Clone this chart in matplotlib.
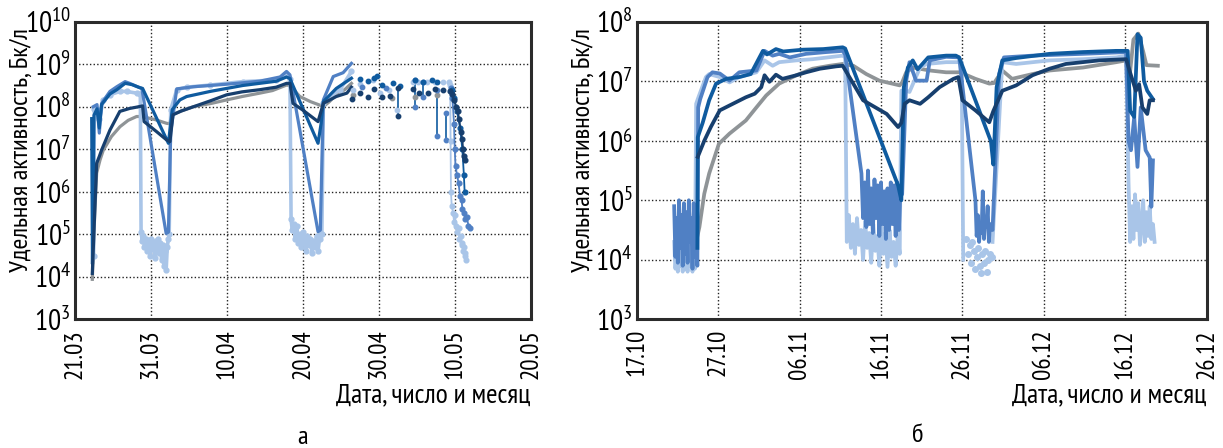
import numpy as np
import matplotlib
matplotlib.use("Agg")
import matplotlib.pyplot as plt
from matplotlib import font_manager as fm

installed = {f.name for f in fm.fontManager.ttflist}
wish = ["PT Sans Narrow", "Fira Sans Condensed", "Roboto Condensed", "Open Sans Condensed",
        "IBM Plex Sans Condensed", "Liberation Sans Narrow", "Liberation Sans"]
narrow = [n for n in wish if n in installed][:1]
plt.rcParams["font.family"] = narrow + ["DejaVu Sans"]

# colours of the five series
c_gray = "#8f9497"
c_navy = "#173f6e"
c_dblue = "#0f5b9f"
c_mblue = "#5080c4"
c_light = "#a9c5e8"

# ---------------- panel a: days since 21.03, values as log10(Bq/l)
a_ticks = [0, 10, 20, 30, 40, 50, 60]
a_labels = ["21.03", "31.03", "10.04", "20.04", "30.04", "10.05", "20.05"]

a_gray_day = [2.28, 2.6, 2.85, 3.3, 3.73, 4.8, 5.92, 7.0, 8.11, 8.77, 10.5, 12.06, 12.5, 12.7, 14.0, 15.57,
              18.0, 19.96, 22.0, 24.34, 26.0, 27.85, 28.3, 29.6, 31.0, 32.2, 32.7, 33.5, 34.4, 35.5, 36.4]
a_gray_lg = [3.94, 5.5, 6.44, 6.75, 6.98, 7.3, 7.53, 7.68, 7.77, 7.77, 7.7, 7.61, 7.6, 7.81, 7.9, 8.0,
             8.08, 8.16, 8.24, 8.32, 8.38, 8.51, 8.5, 8.24, 8.12, 8.04, 8.0, 8.12, 8.28, 8.4, 8.55]

a_navy_day = [2.28, 2.85, 3.2, 3.5, 4.6, 5.9, 7.2, 8.1, 8.9, 9.1, 10.7, 12.06, 12.5, 12.9, 14.0, 15.6, 18.0,
              19.96, 22.0, 24.3, 26.5, 27.85, 28.3, 28.7, 30.0, 32.0, 32.7, 34.4, 35.8, 36.4]
a_navy_lg = [4.08, 6.67, 6.83, 6.98, 7.45, 7.89, 7.96, 7.99, 8.02, 7.65, 7.42, 7.22, 7.18, 7.81, 7.9, 8.0, 8.15,
             8.28, 8.35, 8.4, 8.46, 8.55, 8.55, 8.08, 7.92, 7.65, 8.08, 8.24, 8.32, 8.46]

a_dblue_day = [2.2, 2.3, 2.5, 2.9, 3.2, 3.5, 4.6, 5.5, 6.6, 7.5, 8.5, 8.9, 12.3, 12.8, 13.8, 14.7, 17.8,
               22.1, 26.5, 27.85, 28.3, 32.0, 32.4, 32.7, 34.4, 36.4]
a_dblue_lg = [7.72, 4.3, 7.8, 7.95, 7.5, 8.05, 8.3, 8.4, 8.55, 8.52, 8.45, 8.43, 7.14, 7.93, 8.16, 8.24, 8.36,
              8.5, 8.6, 8.7, 8.66, 7.14, 7.6, 8.12, 8.43, 8.67]

a_mblue_day = [2.4, 2.9, 3.2, 3.5, 4.6, 5.5, 6.6, 7.2, 8.1, 8.8, 12.0, 12.3, 12.6, 13.4, 15.6, 20.0, 24.3,
               27.0, 27.85, 28.3, 32.0, 32.3, 32.7, 34.0, 35.3, 36.4]
a_mblue_lg = [8.0, 8.05, 7.38, 8.08, 8.36, 8.47, 8.59, 8.55, 8.48, 8.43, 5.02, 5.05, 7.4, 8.42, 8.47, 8.53, 8.6,
              8.7, 8.83, 8.75, 5.06, 5.1, 8.16, 8.71, 8.8, 9.02]

a_light_day = [2.45, 2.55, 3.0, 3.2, 3.73, 4.6, 5.9, 6.8, 8.1, 8.6, 8.7,
               8.85, 9.0, 9.15, 9.3, 9.45, 9.6, 9.75, 9.9, 10.05, 10.2, 10.35, 10.5, 10.65, 10.8, 10.95,
               11.1, 11.25, 11.4, 11.55, 11.7, 11.85, 12.0, 12.15, 12.3,
               12.4, 12.6, 13.4, 14.7, 17.8, 22.1, 26.5, 27.9, 28.3, 28.45,
               28.6, 28.8, 29.0, 29.2, 29.4, 29.6, 29.8, 30.0, 30.2, 30.4, 30.6, 30.8, 31.0, 31.2, 31.4,
               31.6, 31.8, 32.0, 32.2, 32.4,
               32.5, 32.7, 33.6, 34.9, 36.4]
a_light_lg = [4.5, 7.95, 7.92, 7.7, 8.16, 8.28, 8.36, 8.36, 8.32, 8.3, 5.05,
              4.85, 4.95, 4.7, 4.9, 4.6, 4.85, 4.75, 4.5, 4.9, 4.65, 4.8, 4.45, 4.85, 4.6, 4.9,
              4.55, 4.8, 4.4, 4.75, 4.25, 4.6, 4.15, 4.7, 4.9,
              5.0, 7.93, 8.4, 8.46, 8.51, 8.59, 8.63, 8.75, 8.65, 5.35,
              5.1, 5.25, 4.9, 5.2, 4.8, 5.0, 4.7, 5.05, 4.85, 4.6, 4.95, 4.75, 4.9, 4.55, 4.85,
              4.7, 4.95, 4.6, 4.9, 5.0,
              5.0, 8.08, 8.24, 8.4, 8.83]

# sparse measurements 30.04 - 10.05 (dots) and vertical drops
a_dot_gray_day = [36.64, 41.69, 44.76, 47.6]
a_dot_gray_lg = [8.28, 8.2, 8.22, 8.28]
a_dot_navy_day = [36.42, 37.52, 38.62, 39.36, 40.37, 41.47, 42.57, 42.57, 44.54, 45.33, 46.52, 47.4, 48.4]
a_dot_navy_lg = [8.18, 8.32, 8.24, 8.41, 8.22, 8.26, 8.44, 7.79, 8.41, 8.32, 8.33, 8.41, 8.4]
a_dot_dblue_day = [37.52, 38.62, 39.36, 39.8, 40.37, 41.82, 42.79, 44.76, 45.86, 46.96, 47.6]
a_dot_dblue_lg = [8.65, 8.61, 8.67, 8.73, 8.51, 8.55, 8.49, 8.63, 8.59, 8.63, 8.59]
a_dot_light_day = [36.64, 37.52, 39.27, 40.15, 41.38, 42.44, 44.54, 45.2, 46.39, 47.4, 48.49]
a_dot_light_lg = [8.4, 8.54, 8.62, 8.32, 8.4, 7.93, 8.57, 8.59, 8.57, 8.57, 8.59]
a_dot_mblue_day = [37.74, 40.94, 44.76, 44.76, 45.86, 45.86, 47.7, 47.7, 48.8, 48.8]
a_dot_mblue_lg = [8.46, 8.44, 8.63, 7.99, 8.59, 8.24, 8.4, 7.3, 7.85, 7.22]
a_drop_day = [42.57, 44.76, 45.86, 47.7, 48.8]
a_drop_top = [8.44, 8.63, 8.59, 8.4, 7.85]
a_drop_bot = [7.79, 7.99, 8.24, 7.3, 7.22]
a_drop_col = [c_dblue, c_dblue, c_dblue, c_dblue, c_dblue]

# final decline around 10.05
a_tail_light_day = [49.2, 49.4, 49.45, 49.5, 49.6, 49.8, 49.9, 50.0, 50.2, 50.3, 50.5, 50.6, 50.8, 50.9, 51.0,
                    51.1, 51.2, 51.3, 51.4, 51.5]
a_tail_light_lg = [8.59, 8.5, 7.2, 6.0, 5.66, 5.5, 5.3, 5.45, 5.2, 5.05, 5.15, 4.9, 4.95, 4.75, 4.8, 4.6,
                   4.7, 4.5, 4.55, 4.4]
a_tail_mblue_day = [49.5, 49.7, 49.9, 50.0, 50.1, 50.3, 50.5, 50.7, 50.9, 51.0, 51.2, 51.4, 51.6, 51.8, 52.0]
a_tail_mblue_lg = [8.45, 8.2, 7.6, 7.0, 6.6, 6.4, 6.2, 5.9, 5.8, 5.6, 5.5, 5.35, 5.4, 5.2, 5.15]
a_tail_navy_day = [49.4, 49.6, 49.9, 50.2, 50.4, 50.6, 50.8, 51.0, 51.1, 51.2, 51.3]
a_tail_navy_lg = [8.36, 8.3, 8.15, 8.0, 7.9, 7.7, 7.4, 7.25, 7.0, 6.85, 6.75]
a_tail_dblue_day = [49.6, 49.9, 50.3, 50.7, 51.0, 51.2, 51.3]
a_tail_dblue_lg = [8.4, 8.2, 7.9, 7.5, 7.0, 6.4, 6.0]

# ---------------- panel b: days since 17.10
b_ticks = [0, 10, 20, 30, 40, 50, 60, 70]
b_labels = ["17.10", "27.10", "06.11", "16.11", "26.11", "06.12", "16.12", "26.12"]

b_gray_day = [7.3, 7.7, 8.3, 8.9, 10.1, 11.4, 13.4, 14.7, 15.9, 17.5, 19.6, 21.6, 23.7, 25.3, 26.6, 28.2,
              29.8, 32.3, 32.6, 33.1, 33.9, 36.0, 38.0, 39.7, 41.6, 43.3, 43.9, 44.9, 46.1, 48.6, 50.7,
              54.8, 58.9, 60.1, 60.4, 61.0, 61.6, 62.2, 62.6, 64.0]
b_gray_lg = [4.3, 4.55, 5.11, 5.45, 5.95, 6.12, 6.34, 6.56, 6.76, 6.96, 7.1, 7.21, 7.26, 7.29, 7.26, 7.12,
             7.01, 6.93, 6.98, 7.15, 7.23, 7.18, 7.15, 7.15, 7.04, 6.96, 6.97, 7.18, 7.04, 7.12, 7.18,
             7.23, 7.32, 7.35, 6.9, 7.7, 7.8, 7.5, 7.27, 7.26]

b_navy_day = [7.5, 8.3, 9.1, 10.2, 11.8, 13.4, 14.5, 15.3, 15.7, 16.3, 17.1, 17.9, 19.6, 20.8, 22.5, 24.5,
              25.3, 27.8, 30.7, 32.1, 32.5, 32.9, 33.5, 34.8, 35.8, 37.2, 38.9, 39.5, 40.0, 41.6, 43.3,
              43.8, 44.9, 46.6, 48.6, 50.7, 52.7, 56.8, 60.1, 60.7, 61.3, 61.7, 62.1, 62.7, 63.0, 63.4]
b_navy_lg = [5.73, 6.0, 6.23, 6.51, 6.62, 6.73, 6.79, 6.9, 7.1, 6.99, 7.11, 7.04, 7.1, 7.15, 7.21, 7.25,
             7.26, 6.68, 6.45, 6.23, 6.3, 6.62, 6.68, 6.62, 6.73, 6.9, 7.04, 7.07, 6.68, 6.51, 6.31,
             6.5, 6.84, 6.93, 7.1, 7.21, 7.29, 7.35, 7.37, 7.1, 6.84, 6.95, 6.56, 6.45, 6.68, 6.68]

b_dblue_day = [7.45, 7.5, 8.1, 8.9, 9.75, 11.0, 12.6, 14.0, 15.5, 16.0, 17.1, 18.0, 20.4, 22.9, 25.3, 25.6,
               32.1, 32.5, 32.8, 33.3, 33.9, 34.5, 35.8, 38.0, 39.2, 39.6, 43.5, 43.8, 44.2, 44.9, 46.6,
               50.7, 54.8, 58.9, 60.3, 60.6, 61.1, 61.5, 61.9, 62.3, 62.7, 63.4]
b_dblue_lg = [4.2, 6.06, 6.3, 6.68, 6.96, 7.04, 7.07, 7.12, 7.51, 7.45, 7.54, 7.5, 7.53, 7.54, 7.57, 7.55,
              5.25, 5.0, 6.9, 7.23, 7.35, 7.2, 7.4, 7.43, 7.43, 7.4, 5.99, 5.6, 6.9, 7.35, 7.39,
              7.46, 7.49, 7.51, 7.51, 6.5, 6.4, 7.79, 7.73, 7.0, 6.84, 6.7]

b_mblue_day = [4.6, 4.75, 4.9, 5.05, 5.2, 5.35, 5.5, 5.65, 5.8, 5.95, 6.1, 6.25, 6.4, 6.55, 6.7, 6.85,
               7.0, 7.15, 7.3, 7.45,
               7.55, 7.8, 8.7, 9.3, 10.2, 11.4, 12.6, 14.7, 15.7, 16.7, 17.5, 18.8, 20.8, 23.3, 25.3, 25.6,
               27.6, 27.8, 28.0, 28.2, 28.4, 28.6, 28.8, 29.0, 29.2, 29.4, 29.6, 29.8, 30.0, 30.2, 30.4,
               30.6, 30.8, 31.0, 31.2, 31.4, 31.6, 31.8, 32.0, 32.2, 32.4,
               32.6, 33.1, 33.5, 34.3, 35.6, 36.0, 38.0, 39.6,
               41.6, 41.75, 41.9, 42.05, 42.2, 42.35, 42.5, 42.65, 42.8, 42.95, 43.1, 43.25, 43.4,
               43.7, 44.5, 45.1, 48.6, 54.8, 60.1,
               60.4, 60.7, 61.1, 61.5, 61.9, 62.5, 63.0, 63.2, 63.4]
b_mblue_lg = [4.9, 4.05, 4.7, 3.95, 5.0, 4.2, 4.75, 3.9, 4.95, 4.1, 4.8, 3.95, 5.0, 4.3, 4.7, 3.85,
              4.95, 4.05, 4.25, 3.9,
              6.56, 6.7, 7.07, 7.15, 7.13, 7.01, 7.15, 7.18, 7.51, 7.43, 7.46, 7.4, 7.46, 7.49, 7.51, 7.45,
              5.45, 4.7, 5.3, 4.55, 5.5, 4.6, 5.2, 4.45, 5.35, 4.7, 5.25, 4.4, 5.3, 4.6, 5.15,
              4.35, 5.2, 4.5, 5.3, 4.6, 5.25, 4.4, 5.3, 4.5, 5.2,
              5.1, 7.01, 7.32, 7.01, 7.01, 7.35, 7.41, 7.4,
              5.0, 4.4, 4.75, 4.3, 4.6, 4.45, 5.15, 4.35, 4.7, 4.55, 4.9, 4.3, 4.6,
              4.5, 7.12, 7.4, 7.43, 7.46, 7.49,
              6.0, 5.84, 6.4, 5.56, 6.56, 5.84, 5.72, 4.89, 5.67]

b_light_day = [4.6, 4.75, 4.9, 5.05, 5.2, 5.35, 5.5, 5.65, 5.8, 5.95, 6.1, 6.25, 6.4, 6.55, 6.7, 6.85,
               7.0, 7.15,
               7.3, 7.5, 8.5, 8.9, 10.2, 11.4, 12.6, 14.7, 15.7, 16.7, 17.5, 19.6, 21.6, 25.3, 25.6,
               25.8, 26.05, 26.3, 26.55, 26.8, 27.05, 27.3, 27.55, 27.8, 28.05, 28.3, 28.55, 28.8, 29.05,
               29.3, 29.55, 29.8, 30.05, 30.3, 30.55, 30.8, 31.05, 31.3, 31.55, 31.8, 32.05, 32.3,
               32.5, 33.1, 33.5, 34.8, 35.6, 38.0, 39.9, 40.1]
b_light_lg = [4.3, 3.85, 4.1, 3.8, 4.25, 3.9, 4.0, 3.8, 4.2, 3.85, 4.05, 3.8, 4.3, 3.9, 4.1, 3.8,
              4.2, 3.85,
              6.62, 6.7, 7.07, 7.12, 7.07, 6.98, 7.07, 7.15, 7.35, 7.26, 7.32, 7.35, 7.37, 7.43, 7.4,
              4.3, 4.75, 4.2, 4.6, 4.1, 4.7, 4.25, 4.5, 4.0, 4.65, 4.2, 4.45, 3.95, 4.6,
              4.15, 4.4, 3.9, 4.55, 4.1, 4.45, 3.88, 4.5, 4.05, 4.3, 3.9, 4.4, 4.1,
              6.84, 6.84, 6.82, 7.23, 7.29, 7.32, 7.32, 4.0]
b_light2_day = [43.7, 44.9, 46.6, 50.7, 54.8, 58.9, 60.1,
                60.4, 60.6, 60.8, 61.0, 61.2, 61.4, 61.6, 61.8, 62.0, 62.2, 62.4, 62.6, 62.8, 63.0, 63.2,
                63.4, 63.6]
b_light2_lg = [4.3, 7.32, 7.29, 7.35, 7.37, 7.4, 7.43,
               5.3, 4.3, 4.9, 4.35, 5.1, 4.5, 4.95, 4.25, 4.6, 5.0, 4.3, 4.8, 4.4, 4.9, 4.35,
               4.6, 4.3]
# separate light-blue points after 26.11
b_dot_light_day = [40.5, 40.7, 40.9, 41.1, 41.2, 41.4, 41.6, 41.8, 41.9, 42.1, 42.3, 42.4, 42.6, 42.8,
                   43.0, 43.2, 43.4, 43.6]
b_dot_light_lg = [4.35, 4.1, 4.25, 3.95, 4.3, 4.15, 3.85, 4.05, 4.2, 3.9, 3.78, 4.1, 3.95, 4.15,
                  3.8, 4.0, 4.1, 4.05]


def p(v):
    return 10.0 ** np.asarray(v, dtype=float)


def style_axes(ax, ticks, labels, lo, hi):
    ax.set_yscale("log")
    ax.set_xlim(ticks[0], ticks[-1])
    ax.set_ylim(10.0 ** lo, 10.0 ** hi)
    ax.set_xticks(ticks)
    ax.set_xticklabels(labels, rotation=90, fontsize=18)
    exps = list(range(lo, hi + 1))
    ax.set_yticks([10.0 ** e for e in exps])
    ax.set_yticklabels([r"$\mathdefault{10^{%d}}$" % e for e in exps], fontsize=21)
    ax.yaxis.set_minor_locator(plt.NullLocator())
    ax.tick_params(length=0, pad=3)
    ax.tick_params(axis="x", pad=7)
    ax.grid(True, color="#222222", linestyle=(0, (1, 1.6)), linewidth=1.0)
    for s in ax.spines.values():
        s.set_linewidth(2.2)
        s.set_color("#2b2b2b")
    ax.set_ylabel("Удельная активность, Бк/л", fontsize=19)
    ax.set_xlabel("Дата, число и месяц", fontsize=20, ha="right")
    ax.xaxis.set_label_coords(1.0, -0.215)


fig = plt.figure(figsize=(12.23, 4.48), dpi=100)
axa = fig.add_axes([75 / 1223, 128.7 / 448, 455.7 / 1223, 297.6 / 448])
axb = fig.add_axes([636.7 / 1223, 128.7 / 448, 570 / 1223, 297.6 / 448])

# panel a
lw = 2.3
axa.plot(a_gray_day, p(a_gray_lg), color=c_gray, lw=lw, zorder=3)
axa.plot(a_light_day, p(a_light_lg), color=c_light, lw=2.6, marker="o", ms=3.5, zorder=3)
axa.plot(a_mblue_day, p(a_mblue_lg), color=c_mblue, lw=lw, zorder=4)
axa.plot(a_dblue_day, p(a_dblue_lg), color=c_dblue, lw=lw, zorder=4)
axa.plot(a_navy_day, p(a_navy_lg), color=c_navy, lw=lw, zorder=5)
axa.vlines(a_drop_day, p(a_drop_bot), p(a_drop_top), colors=a_drop_col, lw=1.2, zorder=4)
for d, v, c in [(a_dot_gray_day, a_dot_gray_lg, c_gray), (a_dot_light_day, a_dot_light_lg, c_light),
                (a_dot_mblue_day, a_dot_mblue_lg, c_mblue), (a_dot_dblue_day, a_dot_dblue_lg, c_dblue),
                (a_dot_navy_day, a_dot_navy_lg, c_navy)]:
    axa.plot(d, p(v), "o", color=c, ms=3.2, zorder=5)
for d, v, c in [(a_tail_light_day, a_tail_light_lg, c_light), (a_tail_mblue_day, a_tail_mblue_lg, c_mblue),
                (a_tail_dblue_day, a_tail_dblue_lg, c_dblue), (a_tail_navy_day, a_tail_navy_lg, c_navy)]:
    axa.plot(d, p(v), "-o", color=c, lw=1.3, ms=3.4, zorder=5)
style_axes(axa, a_ticks, a_labels, 3, 10)
axa.yaxis.set_label_coords(-0.093, 0.57)

# panel b
lw = 2.7
axb.plot(b_gray_day, p(b_gray_lg), color=c_gray, lw=lw, zorder=3)
axb.plot(b_light_day, p(b_light_lg), color=c_light, lw=lw, zorder=3)
axb.plot(b_light2_day, p(b_light2_lg), color=c_light, lw=lw, zorder=3)
axb.plot(b_dot_light_day, p(b_dot_light_lg), "o", color=c_light, ms=4, zorder=3)
axb.plot(b_mblue_day, p(b_mblue_lg), color=c_mblue, lw=lw, zorder=4)
axb.plot(b_dblue_day, p(b_dblue_lg), color=c_dblue, lw=lw, zorder=5)
axb.plot(b_navy_day, p(b_navy_lg), color=c_navy, lw=lw, zorder=5)
style_axes(axb, b_ticks, b_labels, 3, 8)
axb.yaxis.set_label_coords(-0.074, 0.57)

fig.text(303 / 1223, 1 - 437 / 448, "а", fontsize=19, ha="center", va="center")
fig.text(918 / 1223, 1 - 435 / 448, "б", fontsize=19, ha="center", va="center")

fig.savefig("out.png", dpi=100)
